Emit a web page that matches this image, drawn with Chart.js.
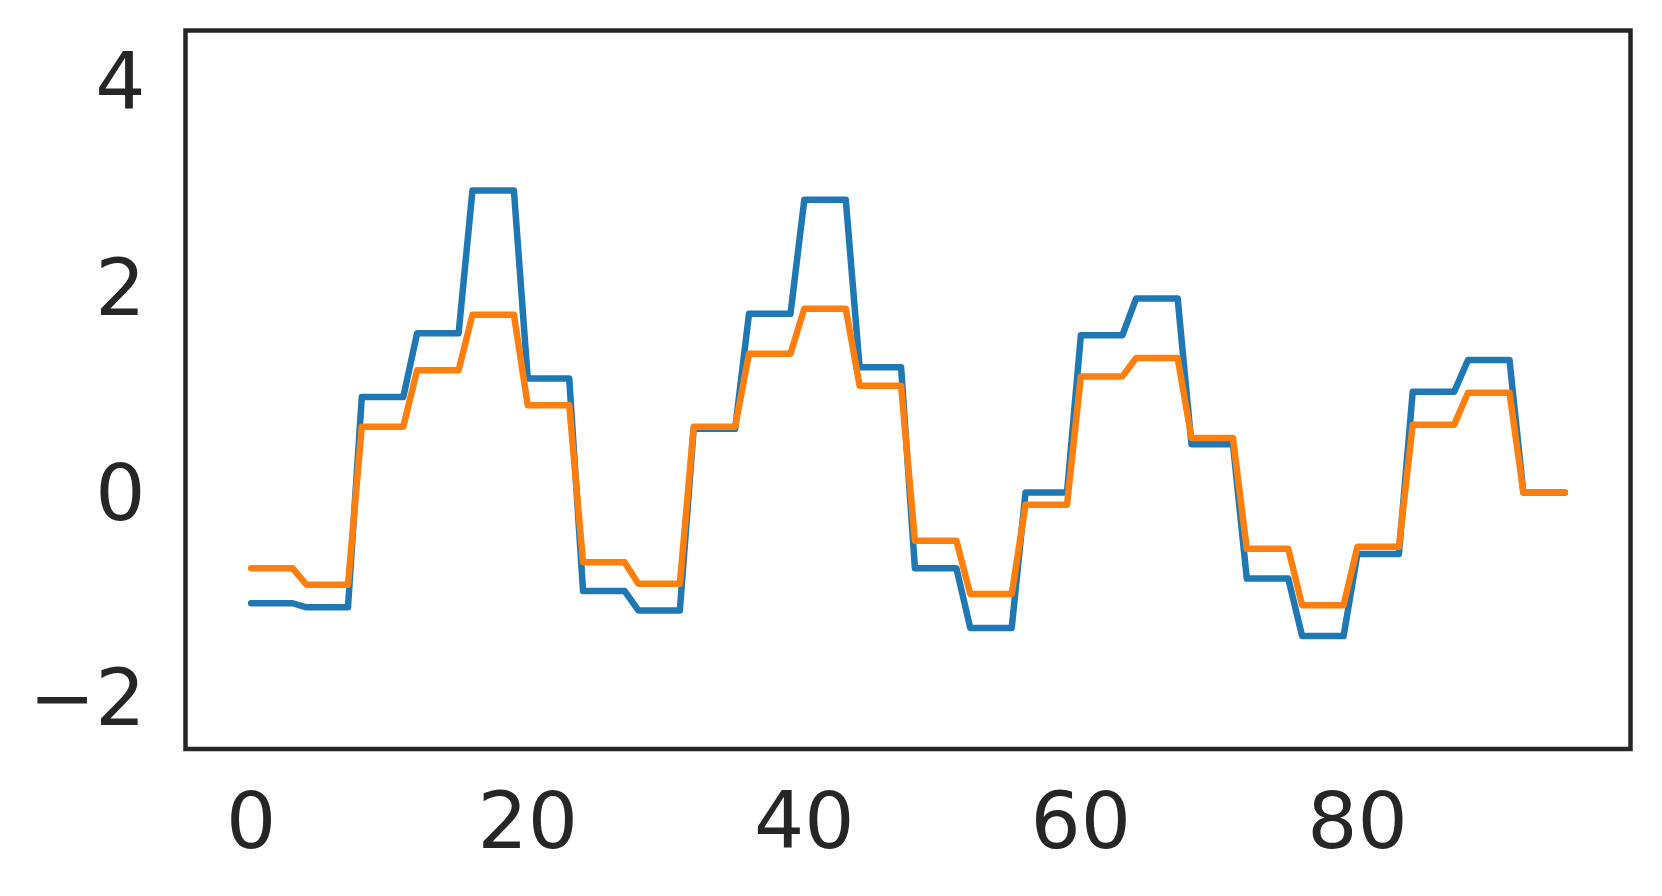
<!DOCTYPE html>
<html>
<head>
<meta charset="utf-8">
<script src="https://cdn.jsdelivr.net/npm/chart.js@4/dist/chart.umd.min.js"></script>
<style>
  html, body { margin: 0; padding: 0; background: #ffffff; }
  #c { display: block; }
</style>
</head>
<body>
<canvas id="c" width="1662" height="896"></canvas>
<script>
const xValues = [
  0,1,2,3,4,5,6,7,8,9,10,11,12,13,14,15,16,17,18,19,
  20,21,22,23,24,25,26,27,28,29,30,31,32,33,34,35,36,37,38,39,
  40,41,42,43,44,45,46,47,48,49,50,51,52,53,54,55,56,57,58,59,
  60,61,62,63,64,65,66,67,68,69,70,71,72,73,74,75,76,77,78,79,
  80,81,82,83,84,85,86,87,88,89,90,91,92,93,94,95
];

const blueSeries = [
  -1.08,-1.08,-1.08,-1.08, -1.12,-1.12,-1.12,-1.12,
   0.93, 0.93, 0.93, 0.93,  1.55, 1.55, 1.55, 1.55,
   2.94, 2.94, 2.94, 2.94,  1.11, 1.11, 1.11, 1.11,
  -0.96,-0.96,-0.96,-0.96, -1.15,-1.15,-1.15,-1.15,
   0.62, 0.62, 0.62, 0.62,  1.74, 1.74, 1.74, 1.74,
   2.85, 2.85, 2.85, 2.85,  1.22, 1.22, 1.22, 1.22,
  -0.74,-0.74,-0.74,-0.74, -1.32,-1.32,-1.32,-1.32,
   0.00, 0.00, 0.00, 0.00,  1.53, 1.53, 1.53, 1.53,
   1.89, 1.89, 1.89, 1.89,  0.47, 0.47, 0.47, 0.47,
  -0.84,-0.84,-0.84,-0.84, -1.40,-1.40,-1.40,-1.40,
  -0.60,-0.60,-0.60,-0.60,  0.98, 0.98, 0.98, 0.98,
   1.29, 1.29, 1.29, 1.29,  0.00, 0.00, 0.00, 0.00
];

const orangeSeries = [
  -0.74,-0.74,-0.74,-0.74, -0.90,-0.90,-0.90,-0.90,
   0.64, 0.64, 0.64, 0.64,  1.19, 1.19, 1.19, 1.19,
   1.73, 1.73, 1.73, 1.73,  0.85, 0.85, 0.85, 0.85,
  -0.68,-0.68,-0.68,-0.68, -0.89,-0.89,-0.89,-0.89,
   0.64, 0.64, 0.64, 0.64,  1.35, 1.35, 1.35, 1.35,
   1.79, 1.79, 1.79, 1.79,  1.04, 1.04, 1.04, 1.04,
  -0.47,-0.47,-0.47,-0.47, -0.99,-0.99,-0.99,-0.99,
  -0.12,-0.12,-0.12,-0.12,  1.13, 1.13, 1.13, 1.13,
   1.31, 1.31, 1.31, 1.31,  0.53, 0.53, 0.53, 0.53,
  -0.55,-0.55,-0.55,-0.55, -1.10,-1.10,-1.10,-1.10,
  -0.53,-0.53,-0.53,-0.53,  0.66, 0.66, 0.66, 0.66,
   0.97, 0.97, 0.97, 0.97,  0.00, 0.00, 0.00, 0.00
];

const xTicks = [0, 20, 40, 60, 80];
const xTickLabels = ['0', '20', '40', '60', '80'];
const yTicks = [-2, 0, 2, 4];
const yTickLabels = ['\u22122', '0', '2', '4'];

const toPoints = (ys) => ys.map((y, i) => ({ x: xValues[i], y: y }));

const TEXT = '#262626';
const FONT = { family: 'DejaVu Sans', size: 79 };

const framePlugin = {
  id: 'frame',
  afterDraw(chart) {
    const a = chart.chartArea;
    const ctx = chart.ctx;
    ctx.save();
    ctx.strokeStyle = TEXT;
    ctx.lineWidth = 4.5;
    ctx.lineJoin = 'miter';
    ctx.strokeRect(a.left, a.top, a.right - a.left, a.bottom - a.top);
    ctx.restore();
  }
};

new Chart(document.getElementById('c'), {
  type: 'line',
  data: {
    datasets: [
      {
        data: toPoints(blueSeries),
        borderColor: '#1f77b4',
        borderWidth: 6.5,
        borderCapStyle: 'round',
        borderJoinStyle: 'round',
        pointRadius: 0,
        tension: 0,
        fill: false,
        order: 1
      },
      {
        data: toPoints(orangeSeries),
        borderColor: '#ff7f0e',
        borderWidth: 6.5,
        borderCapStyle: 'round',
        borderJoinStyle: 'round',
        pointRadius: 0,
        tension: 0,
        fill: false,
        order: 0
      }
    ]
  },
  options: {
    responsive: false,
    devicePixelRatio: 1,
    animation: false,
    events: [],
    layout: { padding: { left: 0, top: 30.5, right: 31.5, bottom: 0 } },
    plugins: { legend: { display: false }, tooltip: { enabled: false } },
    scales: {
      x: {
        type: 'linear',
        min: -4.75,
        max: 99.75,
        grid: { display: false, drawTicks: false },
        border: { display: false },
        afterBuildTicks: (axis) => { axis.ticks = xTicks.map(v => ({ value: v })); },
        afterFit: (axis) => {
          axis.height = 147;
          axis.paddingLeft = 0; axis.paddingRight = 0;
          axis.paddingTop = 0; axis.paddingBottom = 0;
        },
        ticks: {
          autoSkip: false,
          maxRotation: 0,
          minRotation: 0,
          padding: 31,
          color: TEXT,
          font: FONT,
          callback: (value, index) => xTickLabels[index]
        }
      },
      y: {
        type: 'linear',
        min: -2.5,
        max: 4.5,
        grid: { display: false, drawTicks: false },
        border: { display: false },
        afterBuildTicks: (axis) => { axis.ticks = yTicks.map(v => ({ value: v })); },
        afterFit: (axis) => {
          axis.width = 185.5;
          axis.paddingLeft = 0; axis.paddingRight = 0;
          axis.paddingTop = 0; axis.paddingBottom = 0;
        },
        ticks: {
          autoSkip: false,
          padding: 40,
          labelOffset: 7,
          color: TEXT,
          font: FONT,
          callback: (value, index) => yTickLabels[index]
        }
      }
    }
  },
  plugins: [framePlugin]
});
</script>
</body>
</html>
